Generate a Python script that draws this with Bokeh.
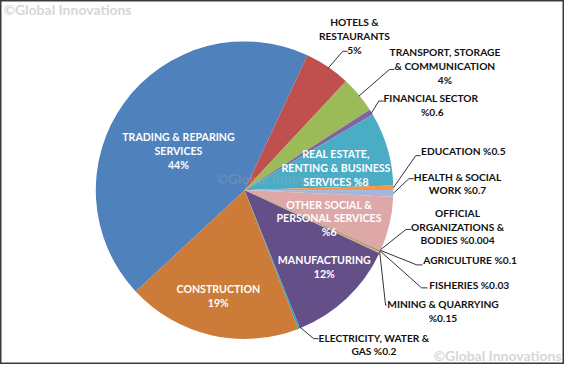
import math
from bokeh.plotting import figure
from bokeh.models import Range1d
from bokeh.core.properties import value
from bokeh.embed import file_html
from bokeh.resources import INLINE

# ---------------- data (clockwise, starting with the first slice) ----------------
categories = [
    "TRADING & REPARING SERVICES", "HOTELS & RESTAURANTS",
    "TRANSPORT, STORAGE & COMMUNICATION", "FINANCIAL  SECTOR",
    "REAL ESTATE, RENTING & BUSINESS SERVICES", "EDUCATION",
    "HEALTH & SOCIAL WORK", "OTHER SOCIAL & PERSONAL SERVICES",
    "OFFICIAL ORGANIZATIONS & BODIES", "AGRICULTURE", "FISHERIES",
    "MINING & QUARRYING", "MANUFACTURING", "ELECTRICITY, WATER & GAS",
    "CONSTRUCTION",
]
shares = [44, 5, 4, 0.6, 8, 0.5, 0.7, 6, 0.004, 0.1, 0.03, 0.15, 12, 0.2, 19]
pct_labels = ["44%", "5%", "4%", "%0.6", "%8", "%0.5", "%0.7", "%6",
              "%0.004", "%0.1", "%0.03", "%0.15", "12%", "%0.2", "19%"]
label_lines = [
    ["TRADING & REPARING", "SERVICES"], ["HOTELS &", "RESTAURANTS"],
    ["TRANSPORT, STORAGE", "& COMMUNICATION"], ["FINANCIAL  SECTOR"],
    ["REAL ESTATE,", "RENTING & BUSINESS", "SERVICES"], ["EDUCATION"],
    ["HEALTH & SOCIAL", "WORK"], ["OTHER SOCIAL &", "PERSONAL SERVICES"],
    ["OFFICIAL", "ORGANIZATIONS &", "BODIES"], ["AGRICULTURE"], ["FISHERIES"],
    ["MINING & QUARRYING"], ["MANUFACTURING"], ["ELECTRICITY, WATER &", "GAS"],
    ["CONSTRUCTION"],
]
# how the percentage joins the name: "own" = own line, "same" = appended to last line
pct_join = ["own", "own", "own", "own", "same", "same", "same", "own",
            "same", "same", "same", "own", "own", "same", "own"]

# ---------------- styles / layout ----------------
colors = ["#4F81BD", "#C0504D", "#9BBB59", "#8064A2", "#4BACC6", "#F79646",
          "#A3B6DB", "#DDA8A7", "#B9CD96", "#77933C", "#2D8FA8", "#E3A46E",
          "#654F88", "#31A0B8", "#CD7B38"]
inside = [True, False, False, False, True, False, False, True,
          False, False, False, False, True, False, True]
FIRST_ANGLE = 227.05          # clockwise from 12 o'clock, degrees
CX, CY_R, R = 251, 198, 153   # centre and radius in reference pixels (y downwards)
W, H = 580, 380

# label anchors (x, first line y) in reference pixels, y downwards; line step
label_pos = [(183, 143), (364, 22), (457, 54), (444, 102), (345, 160),
             (476, 157), (470, 184), (338, 213), (470, 222), (483, 271),
             (482, 297), (455, 317), (333, 271), (384, 352), (224, 301)]
line_step = [14.5, 15, 14.5, 14, 14.5, 14, 14, 14.5, 14, 14, 14, 14, 14, 14, 15]
# leader elbows for outside labels (elbow, end)
leaders = {
    1: ((352, 53), (357, 53)),
    2: ((400, 72), (405, 72)),
    3: ((389, 105), (394, 105)),
    5: ((427, 162), (432, 162)),
    6: ((420, 186), (425, 186)),
    8: ((417, 239), (422, 239)),
    9: ((428, 276), (434, 276)),
    10: ((433, 300), (439, 300)),
    11: ((396, 318), (397, 318)),
    13: ((322, 353), (327, 353)),
}

FONT = "Lato"

p = figure(width=564, height=364, output_backend="svg", toolbar_location=None,
           x_range=Range1d(0, W), y_range=Range1d(0, H), min_border=0)
p.axis.visible = False
p.grid.visible = False
p.outline_line_color = "#3a3a3a"
p.outline_line_width = 2
p.background_fill_color = "white"

# watermark (top-left)
p.text(x=[3], y=[H - 9], text=["\u00a9Global Innovations"], text_align="left",
       text_baseline="middle", text_font=value(FONT), text_font_style="bold",
       text_font_size="14px", text_color="#d6d6d6")

total = sum(shares)
starts, ends, mids = [], [], []
a = FIRST_ANGLE
for s in shares:
    b = a + s / total * 360.0
    starts.append(a)
    ends.append(b)
    mids.append((a + b) / 2)
    a = b

p.wedge(x=[CX] * len(shares), y=[H - CY_R] * len(shares), radius=R,
        start_angle=[math.radians(90 - e) for e in ends],
        end_angle=[math.radians(90 - s) for s in starts],
        fill_color=colors, line_color=None)

# central watermark, faint
p.text(x=[222], y=[H - 186], text=["\u00a9Global Innovations"], text_align="left",
       text_baseline="middle", text_font=value(FONT), text_font_style="bold",
       text_font_size="14px", text_color="#9aa8b8", text_alpha=0.35)

# leaders
xs, ys = [], []
for i, (elbow, end) in leaders.items():
    m = math.radians(mids[i])
    sx = CX + R * math.sin(m)
    sy = CY_R - R * math.cos(m)
    xs.append([sx, elbow[0], end[0]])
    ys.append([H - sy, H - elbow[1], H - end[1]])
p.multi_line(xs=xs, ys=ys, line_color="#333333", line_width=1)

# labels
tx_in, ty_in, tt_in = [], [], []
tx_out, ty_out, tt_out = [], [], []
for i in range(len(shares)):
    lines = list(label_lines[i])
    if pct_join[i] == "same":
        lines[-1] = lines[-1] + " " + pct_labels[i]
    else:
        lines.append(pct_labels[i])
    x0, y0 = label_pos[i]
    for k, ln in enumerate(lines):
        yy = H - (y0 + k * line_step[i])
        if inside[i]:
            tx_in.append(x0); ty_in.append(yy); tt_in.append(ln)
        else:
            tx_out.append(x0); ty_out.append(yy); tt_out.append(ln)

p.text(x=tx_in, y=ty_in, text=tt_in, text_align="center", text_baseline="middle",
       text_font=value(FONT), text_font_style="bold", text_font_size="10.6px",
       text_color="white")
p.text(x=tx_out, y=ty_out, text=tt_out, text_align="center", text_baseline="middle",
       text_font=value(FONT), text_font_style="bold", text_font_size="10.2px",
       text_color="#111111")

# watermark (bottom-right)
p.text(x=[577], y=[H - 371], text=["\u00a9Global Innovations"], text_align="right",
       text_baseline="middle", text_font=value(FONT), text_font_style="bold",
       text_font_size="14px", text_color="#d6d6d6")

open("out.html", "w").write(file_html(p, INLINE))
